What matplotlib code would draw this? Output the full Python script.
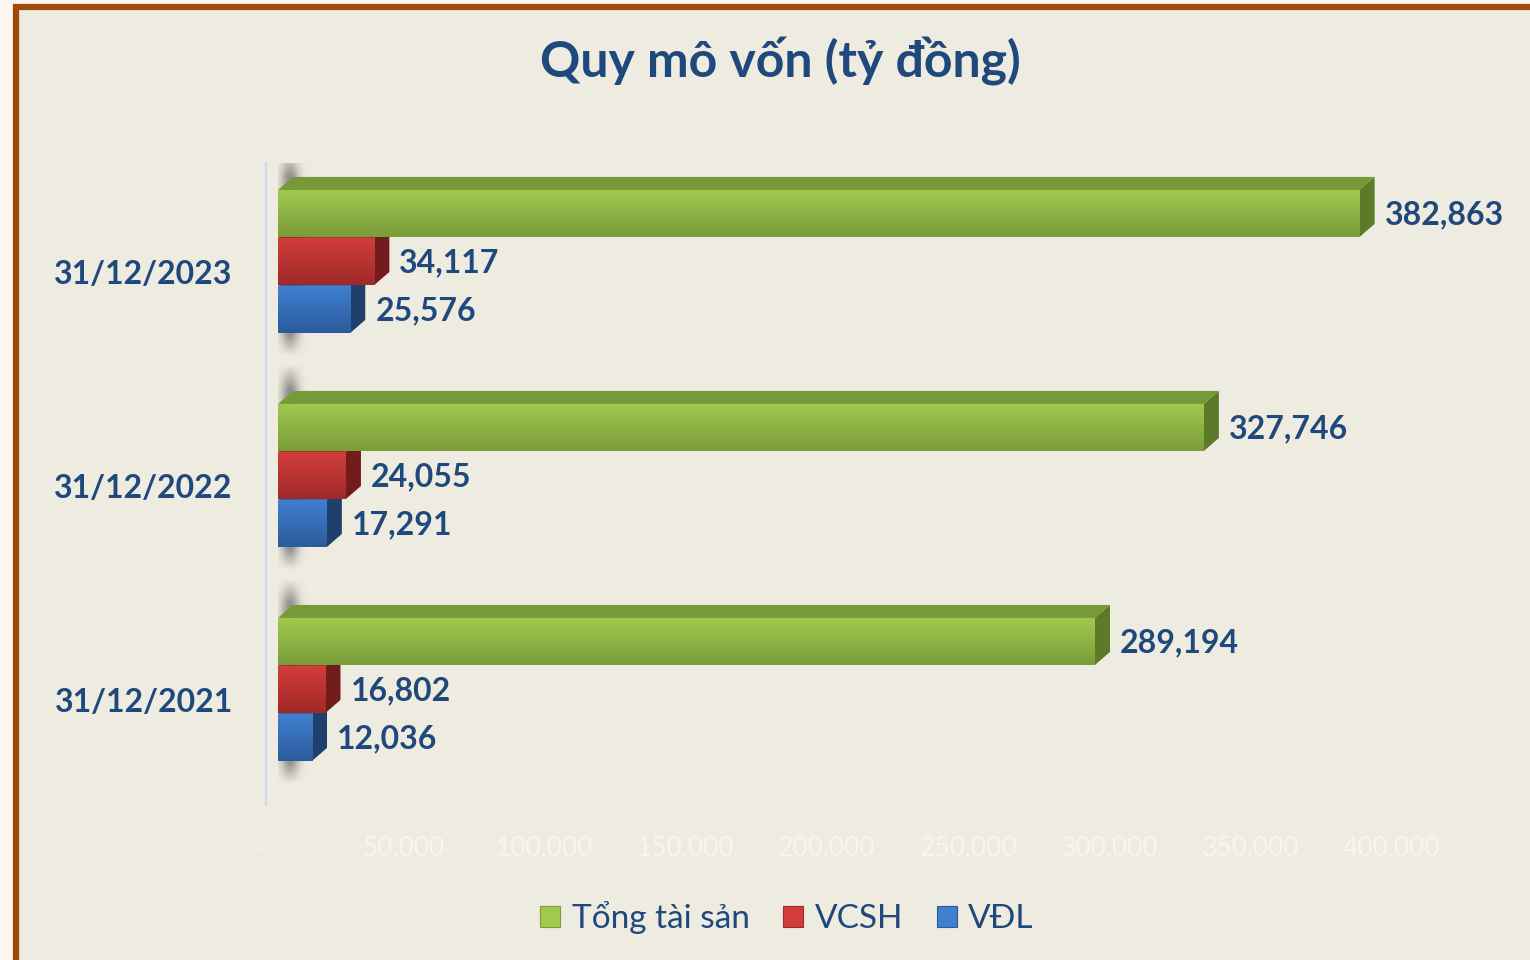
# -*- coding: utf-8 -*-
"""Quy mô vốn (tỷ đồng) - 3D-style horizontal bars, matplotlib."""
import numpy as np
import matplotlib; matplotlib.use("Agg")
import matplotlib.pyplot as plt
from matplotlib.patches import Rectangle, Polygon, Patch
from matplotlib.colors import LinearSegmentedColormap
from matplotlib.transforms import ScaledTranslation

plt.rcParams["font.family"] = ["Lato", "Noto Sans", "DejaVu Sans"]

# ---- data ----
dates = ["31/12/2021", "31/12/2022", "31/12/2023"]
tong_tai_san = [289194, 327746, 382863]
vcsh = [16802, 24055, 34117]
vdl = [12036, 17291, 25576]
series_names = ["Tổng tài sản", "VCSH", "VĐL"]
xticks = [0, 50000, 100000, 150000, 200000, 250000, 300000, 350000, 400000]

INK = "#1f497d"; PANEL = "#eeebe0"; OUTER = "#fdf6f0"; BORDER = "#a04a0a"
# (front top, front bottom, top face, side face)
STYLE = [("#a0c94e", "#7b9c3a", "#78993a", "#5d7a28"),
         ("#d23d3b", "#9f2a29", "#9a2b2a", "#741c1c"),
         ("#4080d0", "#2b5b9c", "#2e5f9e", "#1f406c")]

W, H, DPI = 1530, 960, 100
fig = plt.figure(figsize=(W / DPI, H / DPI), dpi=DPI)
fig.patch.set_facecolor(OUTER)
# framed panel (runs off the right / bottom edge)
fig.patches.append(Rectangle((15.5 / W, -0.2), 1.2, 1 - 7 / H + 0.2, transform=fig.transFigure,
                             facecolor=PANEL, edgecolor=BORDER, lw=4.5, zorder=-5))

ax = fig.add_axes([278 / W, 1 - 805 / H, 1130 / W, 642 / H])
ax.set_zorder(2)
ax.set_facecolor("none")
XMAX = 400000
ax.set_xlim(0, XMAX); ax.set_ylim(-0.54, 2.46)

px_x = XMAX / 1130.0          # data units per pixel (x)
px_y = 3.0 / 642.0            # data units per pixel (y)
DX, DY = 15 * px_x, 13 * px_y  # depth of the 3D faces
BH = 47 * px_y
offs = [48 * px_y, 0.0, -48 * px_y]

pos = np.arange(len(dates))

# soft wall shadow behind the left end of each group
sh_w, sh_h = 34, 70
xx = np.linspace(0, sh_w, sh_w)[None, :]
yy = np.linspace(0, 210, sh_h)[:, None]
a_h = np.exp(-((xx - 14) / 9.0) ** 2)
a_v = np.clip(yy / 25.0, 0, 1) * np.clip((210 - yy) / 22.0, 0, 1)
shadow = np.zeros((sh_h, sh_w, 4))
shadow[..., :3] = 0.40
shadow[..., 3] = 0.7 * a_h * a_v
for p in pos:
    top = p + offs[0] + BH / 2 + 40 * px_y
    bot = p + offs[2] - BH / 2 - 24 * px_y
    ax.imshow(shadow, extent=[-2 * px_x, (sh_w - 2) * px_x, bot, top], origin="upper",
              aspect="auto", zorder=1, interpolation="bicubic")

# draw blue first, then red, then green so upper bars hide lower top faces
for si in [2, 1, 0]:
    vals = [tong_tai_san, vcsh, vdl][si]
    ftop, fbot, ctop, cside = STYLE[si]
    bars = ax.barh(pos + offs[si], vals, height=BH, color="none", edgecolor="none", zorder=3 + (2 - si))
    cmap = LinearSegmentedColormap.from_list("g", [fbot, ftop])
    for b in bars:
        x0, y0 = b.get_x(), b.get_y()
        w, h = b.get_width(), b.get_height()
        z = b.get_zorder()
        top = Polygon([(x0, y0 + h), (x0 + w, y0 + h), (x0 + w + DX, y0 + h + DY), (x0 + DX, y0 + h + DY)],
                      closed=True, facecolor=ctop, edgecolor="none", zorder=z)
        side = Polygon([(x0 + w, y0), (x0 + w, y0 + h), (x0 + w + DX, y0 + h + DY), (x0 + w + DX, y0 + DY)],
                       closed=True, facecolor=cside, edgecolor="none", zorder=z)
        ax.add_patch(top); ax.add_patch(side)
        grad = np.linspace(0, 1, 64).reshape(-1, 1)
        im = ax.imshow(grad, extent=[x0, x0 + w, y0, y0 + h], origin="lower", aspect="auto",
                       cmap=cmap, zorder=z + 0.1, interpolation="bilinear")
        im.set_clip_path(b)
        ax.annotate(f"{int(w):,}", xy=(x0 + w, y0 + h / 2), xytext=(18, -1), textcoords="offset points",
                    va="center", ha="left", fontsize=23, fontweight="bold", color=INK, zorder=10)

ax.set_xlim(0, XMAX); ax.set_ylim(-0.54, 2.46)

# axes styling
for s in ["top", "right", "bottom"]:
    ax.spines[s].set_visible(False)
ax.spines["left"].set_position(("outward", 8.6))
ax.spines["left"].set_color("#c9dbef"); ax.spines["left"].set_linewidth(1.6)

ax.set_xticks(xticks)
ax.set_xticklabels(["-"] + [f"{t:,}" for t in xticks[1:]], fontsize=19, color="#f6f5f0")
ax.tick_params(axis="x", length=0, pad=22)
for lab in ax.get_xticklabels():
    lab.set_transform(lab.get_transform() + ScaledTranslation(-16 / DPI, 0, fig.dpi_scale_trans))

ax.set_yticks(pos)
ax.set_yticklabels(dates, fontsize=23, fontweight="bold", color=INK)
ax.tick_params(axis="y", length=0, pad=24)
for lab in ax.get_yticklabels():
    lab.set_transform(lab.get_transform() + ScaledTranslation(0, -11 / DPI, fig.dpi_scale_trans))

fig.text(780 / W, 1 - 62 / H, "Quy mô vốn (tỷ đồng)", ha="center", va="center",
         fontsize=36, fontweight="bold", color=INK)

handles = [Patch(facecolor=STYLE[i][0], edgecolor=STYLE[i][1], lw=0.8) for i in range(3)]
leg = fig.legend(handles, series_names, loc="center", bbox_to_anchor=(787 / W, 1 - 918 / H), ncol=3,
                 frameon=False, fontsize=24, handlelength=0.6, handleheight=0.6,
                 handletextpad=0.35, columnspacing=1.0)
for t in leg.get_texts():
    t.set_color(INK)

fig.savefig("out.png", dpi=DPI, facecolor=OUTER)
